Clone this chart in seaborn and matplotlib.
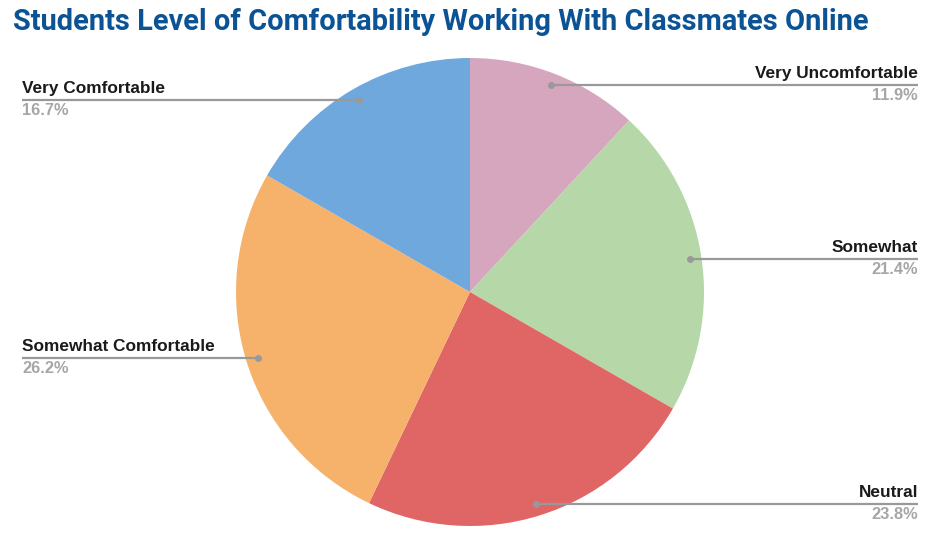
import matplotlib
matplotlib.use("Agg")
import numpy as np
import matplotlib.pyplot as plt
import seaborn as sns

labels = ["Very Uncomfortable", "Somewhat", "Neutral", "Somewhat Comfortable", "Very Comfortable"]
values = [11.9, 21.4, 23.8, 26.2, 16.7]
colors = ["#d5a6bd", "#b6d7a8", "#e06666", "#f6b26b", "#6fa8dc"]

sns.set_theme(style="white")
plt.rcParams["font.family"] = ["Liberation Sans", "DejaVu Sans"]

fig = plt.figure(figsize=(9.4, 5.4), dpi=100)
ax = fig.add_axes([0, 0, 1, 1])

cx, cy, r = 470, 248, 234
wedges, _ = ax.pie(values, colors=sns.color_palette(colors), startangle=90,
                   counterclock=False, center=(cx, cy), radius=r, frame=True,
                   wedgeprops=dict(linewidth=0))
ax.set_xlim(0, 940)
ax.set_ylim(0, 540)
ax.set_aspect("equal")
ax.axis("off")

for w, lab, val in zip(wedges, labels, values):
    ang = np.deg2rad((w.theta1 + w.theta2) / 2)
    px = cx + 0.95 * r * np.cos(ang)
    py = cy + 0.95 * r * np.sin(ang)
    if np.cos(ang) > 0:
        ex, ha = 918, "right"
    else:
        ex, ha = 22, "left"
    ax.plot([px, ex], [py, py], color="#999999", lw=1.6, solid_capstyle="butt")
    ax.plot(px, py, "o", color="#999999", ms=4)
    ax.text(ex, py + 4, lab, ha=ha, va="bottom", fontsize=12.4, fontweight="bold", color="#1a1a1a")
    ax.text(ex, py - 3, f"{val}%", ha=ha, va="top", fontsize=11.8, fontweight="bold", color="#a6a6a6")

fig.text(13 / 940, 1 - 22 / 540, "Students Level of Comfortability Working With Classmates Online",
         ha="left", va="center", fontsize=20.9, fontweight="bold", color="#0b5394",
         family=["Roboto", "DejaVu Sans"])

fig.savefig("out.png", dpi=100, facecolor="white")
